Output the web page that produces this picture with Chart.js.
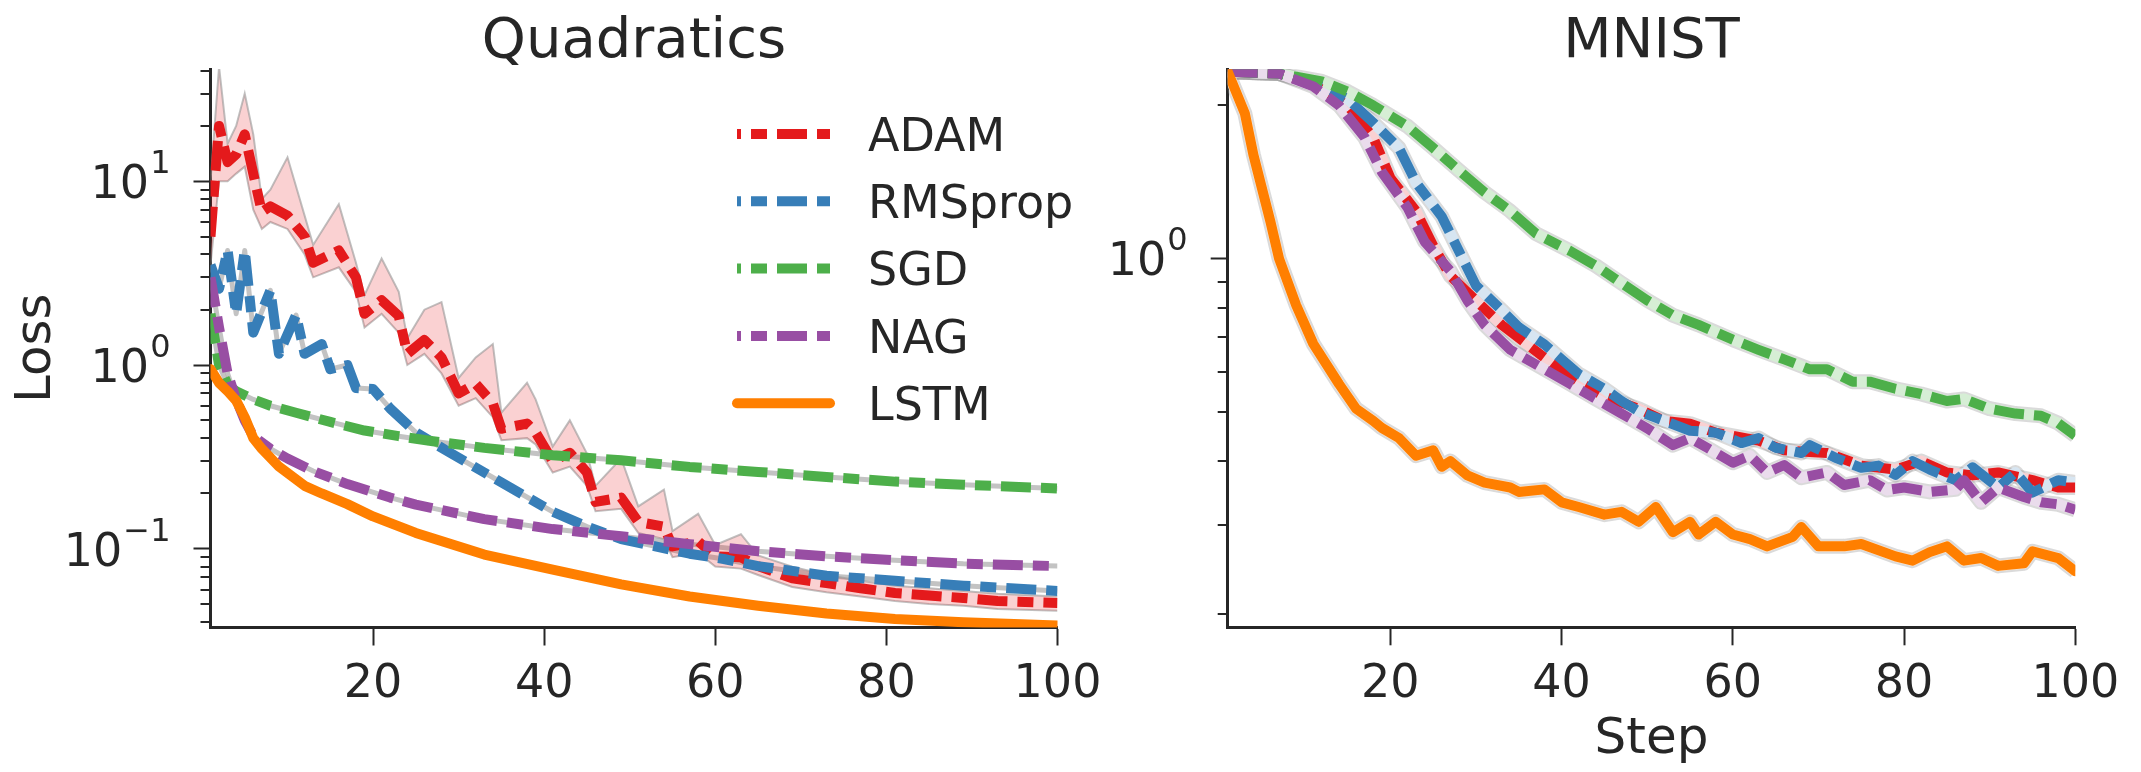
<!DOCTYPE html>
<html>
<head>
<meta charset="utf-8">
<script src="https://cdn.jsdelivr.net/npm/chart.js@4.4.1/dist/chart.umd.min.js"></script>
<style>
  html, body { margin: 0; padding: 0; background: #fff; }
  #wrap { position: relative; width: 2141px; height: 772px; overflow: hidden; }
  canvas { position: absolute; top: 0; }
</style>
</head>
<body>
<div id="wrap">
  <canvas id="quad" width="1141" height="772" style="left:0px"></canvas>
  <canvas id="mnist" width="1061" height="772" style="left:1080px"></canvas>
</div>
<script>
const TEXT = "#262626";
const FONT = "DejaVu Sans";

const NAMES = ["ADAM", "RMSprop", "SGD", "NAG", "LSTM"];
const COLORS = ["#e41a1c", "#377eb8", "#4daf4a", "#984ea3", "#ff7f00"];
const TINTS = ["#f9d1d2", "#d7e5f1", "#d6eed5", "#eadcec", "#ffe5cc"];

const STEP_TICKS = [20, 40, 60, 80, 100];
const QUAD_Y_TICKS = [0.1, 1, 10];
const QUAD_Y_LABELS = [["10", "−1"], ["10", "0"], ["10", "1"]];
const MNIST_Y_TICKS = [1];
const MNIST_Y_LABELS = [["10", "0"]];

// Quadratics
const QUAD_ADAM_X = [1, 2, 3, 4, 5, 6, 7, 8, 10, 12, 13, 16, 18, 19, 21, 23, 24, 26, 28, 30, 32, 34, 35, 38, 39, 41, 43, 45, 46, 49, 51, 54, 55, 58, 60, 63, 65, 69, 73, 77, 81, 85, 89, 93, 100];
const QUAD_ADAM_Y = [5.0, 20, 12.7, 14, 18, 11, 6.8, 7.3, 6.5, 5.0, 3.6, 4.2, 3.0, 1.9, 2.25, 1.85, 1.15, 1.37, 1.1, 0.70, 0.79, 0.62, 0.45, 0.48, 0.43, 0.30, 0.333, 0.26, 0.18, 0.19, 0.14, 0.132, 0.103, 0.11, 0.091, 0.09, 0.0805, 0.069, 0.065, 0.061, 0.0575, 0.0557, 0.054, 0.052, 0.0507];
const QUAD_ADAM_HI = [10, 42, 16, 20, 30, 18, 8, 9, 13.5, 6.5, 4.5, 7.5, 3.6, 2.4, 3.8, 2.5, 1.4, 2.0, 2.2, 0.85, 1.1, 1.3, 0.55, 0.8, 0.65, 0.36, 0.5, 0.33, 0.22, 0.31, 0.17, 0.21, 0.125, 0.155, 0.105, 0.12, 0.092, 0.08, 0.072, 0.067, 0.063, 0.061, 0.059, 0.057, 0.055];
const QUAD_ADAM_LO = [3.5, 10, 10, 11, 12, 7, 5.5, 6, 5.5, 4, 3.0, 3.4, 2.5, 1.6, 1.9, 1.5, 1.0, 1.15, 0.9, 0.6, 0.66, 0.52, 0.39, 0.4, 0.37, 0.26, 0.28, 0.22, 0.16, 0.165, 0.122, 0.113, 0.09, 0.095, 0.08, 0.078, 0.072, 0.062, 0.058, 0.055, 0.052, 0.05, 0.049, 0.047, 0.046];

const QUAD_RMS_X = [1, 2, 3, 4, 5, 6, 8, 9, 11, 12, 14, 15, 17, 18, 20, 22, 25, 29, 33, 37, 41, 45, 49, 53, 57, 61, 65, 69, 73, 81, 89, 100];
const QUAD_RMS_Y = [3.5, 2.6, 4.2, 1.9, 4.2, 1.5, 2.55, 1.15, 1.87, 1.15, 1.3, 0.95, 1.0, 0.75, 0.74, 0.58, 0.43, 0.333, 0.26, 0.203, 0.159, 0.132, 0.113, 0.103, 0.094, 0.088, 0.0805, 0.0758, 0.0713, 0.067, 0.063, 0.059];

const QUAD_SGD_X = [1, 2, 3, 4, 6, 8, 11, 15, 19, 23, 27, 33, 41, 49, 57, 65, 73, 81, 89, 100];
const QUAD_SGD_Y = [1.9, 1.0, 0.78, 0.72, 0.65, 0.60, 0.55, 0.49, 0.44, 0.41, 0.385, 0.354, 0.323, 0.303, 0.279, 0.262, 0.246, 0.232, 0.223, 0.213];

const QUAD_NAG_X = [1, 2, 3, 4, 5, 6, 8, 10, 13, 17, 22, 25, 33, 41, 49, 57, 65, 73, 81, 89, 100];
const QUAD_NAG_Y = [3.0, 1.6, 0.9, 0.65, 0.5, 0.41, 0.35, 0.31, 0.265, 0.225, 0.19, 0.174, 0.145, 0.128, 0.117, 0.106, 0.097, 0.091, 0.0867, 0.083, 0.0805];

const QUAD_LSTM_X = [1, 2, 3, 4, 5, 6, 7, 9, 12, 14, 17, 20, 25, 33, 41, 49, 57, 65, 73, 81, 89, 100];
const QUAD_LSTM_Y = [0.95, 0.80, 0.72, 0.64, 0.52, 0.40, 0.35, 0.28, 0.22, 0.20, 0.175, 0.15, 0.122, 0.093, 0.077, 0.064, 0.055, 0.049, 0.0445, 0.0415, 0.0398, 0.0382];

// MNIST
const MNIST_ADAM_X = [1, 7, 11, 15, 18, 20, 23, 25, 27, 30, 33, 36, 39, 42, 45, 49, 52, 55, 58, 63, 66, 71, 75, 79, 82, 85, 88, 91, 95, 98, 100];
const MNIST_ADAM_Y = [2.33, 2.31, 2.2, 2.0, 1.73, 1.44, 1.24, 1.06, 0.925, 0.827, 0.741, 0.678, 0.62, 0.573, 0.536, 0.507, 0.48, 0.474, 0.455, 0.439, 0.42, 0.415, 0.392, 0.385, 0.40, 0.38, 0.375, 0.38, 0.367, 0.355, 0.355];

const MNIST_RMS_X = [1, 7, 12, 15, 18, 21, 23, 26, 28, 30, 33, 35, 38, 40, 42, 45, 47, 49, 52, 55, 58, 61, 63, 65, 68, 69, 72, 75, 77, 79, 81, 83, 86, 88, 91, 93, 95, 98, 100];
const MNIST_RMS_Y = [2.33, 2.31, 2.18, 2.06, 1.85, 1.65, 1.41, 1.21, 1.035, 0.885, 0.792, 0.733, 0.678, 0.634, 0.593, 0.555, 0.525, 0.501, 0.48, 0.459, 0.455, 0.434, 0.444, 0.425, 0.415, 0.43, 0.406, 0.388, 0.392, 0.376, 0.40, 0.385, 0.367, 0.389, 0.355, 0.38, 0.347, 0.367, 0.363];

const MNIST_SGD_X = [1, 7, 12, 15, 18, 22, 25, 28, 31, 34, 37, 41, 44, 47, 50, 53, 56, 60, 63, 66, 69, 71, 74, 76, 79, 82, 85, 87, 90, 93, 96, 98, 100];
const MNIST_SGD_Y = [2.33, 2.31, 2.23, 2.13, 2.0, 1.82, 1.65, 1.49, 1.35, 1.24, 1.12, 1.035, 0.968, 0.895, 0.828, 0.774, 0.741, 0.693, 0.662, 0.634, 0.606, 0.606, 0.573, 0.573, 0.555, 0.542, 0.525, 0.53, 0.507, 0.496, 0.491, 0.475, 0.449];

const MNIST_NAG_X = [1, 7, 11, 14, 17, 19, 22, 24, 27, 29, 31, 34, 38, 41, 44, 47, 50, 53, 55, 57, 60, 62, 64, 66, 68, 71, 73, 76, 78, 80, 83, 86, 87, 89, 91, 94, 96, 98, 100];
const MNIST_NAG_Y = [2.33, 2.31, 2.18, 2.0, 1.73, 1.48, 1.26, 1.08, 0.946, 0.827, 0.741, 0.662, 0.606, 0.567, 0.53, 0.496, 0.464, 0.43, 0.444, 0.425, 0.397, 0.41, 0.38, 0.393, 0.371, 0.38, 0.359, 0.367, 0.351, 0.355, 0.348, 0.352, 0.367, 0.332, 0.355, 0.34, 0.332, 0.329, 0.321];

const MNIST_LSTM_X = [1, 3, 4, 6, 7, 9, 11, 14, 16, 18, 19, 21, 23, 25, 26, 27, 29, 31, 34, 35, 38, 40, 42, 45, 47, 49, 51, 53, 55, 56, 58, 60, 62, 64, 67, 68, 70, 73, 75, 79, 81, 83, 85, 87, 89, 91, 94, 95, 98, 100];
const MNIST_LSTM_Y = [2.33, 1.93, 1.6, 1.18, 1.0, 0.81, 0.68, 0.567, 0.507, 0.48, 0.465, 0.444, 0.41, 0.42, 0.39, 0.40, 0.375, 0.363, 0.355, 0.348, 0.352, 0.332, 0.325, 0.314, 0.318, 0.304, 0.325, 0.29, 0.304, 0.287, 0.304, 0.287, 0.281, 0.272, 0.284, 0.297, 0.272, 0.272, 0.275, 0.26, 0.255, 0.265, 0.272, 0.255, 0.258, 0.249, 0.252, 0.266, 0.258, 0.243];

const DASH = [30, 10, 16, 10];

function pts(xs, ys) {
    return xs.map((x, i) => ({ x: x, y: ys[i] }));
}

function lineSet(idx, xs, ys, order) {
    const solid = NAMES[idx] === "LSTM";
    return {
        label: NAMES[idx],
        legendIndex: idx,
        data: pts(xs, ys),
        borderColor: COLORS[idx],
        borderWidth: 10,
        borderDash: solid ? [] : DASH,
        borderCapStyle: solid ? "round" : "butt",
        borderJoinStyle: "round",
        pointRadius: 0,
        fill: false,
        tension: 0,
        order: order
    };
}

function haloSet(xs, ys, color, width, order) {
    return {
        label: "",
        data: pts(xs, ys),
        borderColor: color,
        borderWidth: width,
        borderJoinStyle: "round",
        pointRadius: 0,
        fill: false,
        tension: 0,
        order: order
    };
}

// all log ticks k*10^e inside [min, max], majors flagged
function logTicks(min, max, majors) {
    const out = [];
    for (let e = -3; e <= 3; e++) {
        for (let k = 1; k <= 9; k++) {
            const v = k * Math.pow(10, e);
            if (v >= min * 0.999 && v <= max * 1.001) {
                const m = majors.find(t => Math.abs(t - v) / t < 1e-9);
                out.push({ value: m !== undefined ? m : v, major: m !== undefined });
            }
        }
    }
    return out;
}

// minor ticks and the 10^n labels of the log axis
const logAxisExtras = {
    id: "logAxisExtras",
    afterDraw(chart, args, opts) {
        const s = chart.scales.y, a = chart.chartArea, ctx = chart.ctx;
        ctx.save();
        ctx.strokeStyle = TEXT;
        ctx.lineWidth = 2;
        s.ticks.forEach(t => {
            if (t.major) return;
            const y = Math.round(s.getPixelForValue(t.value));
            ctx.beginPath();
            ctx.moveTo(a.left - 1.5, y);
            ctx.lineTo(a.left - 10, y);
            ctx.stroke();
        });
        ctx.fillStyle = TEXT;
        ctx.textAlign = "right";
        ctx.textBaseline = "alphabetic";
        const right = a.left - 40;
        opts.ticks.forEach((v, i) => {
            const y = s.getPixelForValue(v) + 16.8;
            const lab = opts.labels[i];
            ctx.font = "32px '" + FONT + "'";
            const ew = ctx.measureText(lab[1]).width;
            ctx.fillText(lab[1], right, y - 25);
            ctx.font = "46px '" + FONT + "'";
            ctx.fillText(lab[0], right - ew - 1, y);
        });
        ctx.restore();
    }
};

const panelTitle = {
    id: "panelTitle",
    afterDraw(chart, args, opts) {
        const a = chart.chartArea, ctx = chart.ctx;
        ctx.save();
        ctx.fillStyle = TEXT;
        ctx.font = "56px '" + FONT + "'";
        ctx.textAlign = "center";
        ctx.textBaseline = "alphabetic";
        ctx.fillText(opts.text, (a.left + a.right) / 2, 57);
        ctx.restore();
    }
};

const lineLegend = {
    id: "lineLegend",
    afterDraw(chart, args, opts) {
        if (!opts.show) return;
        const ctx = chart.ctx;
        const sets = chart.data.datasets.filter(d => d.legendIndex !== undefined)
            .sort((a, b) => a.legendIndex - b.legendIndex);
        ctx.save();
        sets.forEach((d, i) => {
            const y = 134 + i * 67.3;
            ctx.beginPath();
            ctx.strokeStyle = d.borderColor;
            ctx.lineWidth = d.borderWidth;
            ctx.setLineDash(d.borderDash);
            ctx.lineDashOffset = d.borderDash.length ? 26 : 0;
            ctx.lineCap = d.borderCapStyle;
            ctx.moveTo(737, y);
            ctx.lineTo(830, y);
            ctx.stroke();
            ctx.setLineDash([]);
            ctx.fillStyle = TEXT;
            ctx.font = "46px '" + FONT + "'";
            ctx.textAlign = "left";
            ctx.textBaseline = "alphabetic";
            ctx.fillText(d.label, 868, y + 16.7);
        });
        ctx.restore();
    }
};

function scalesFor(cfg) {
    return {
        x: {
            type: "linear",
            min: 1,
            max: 100,
            afterBuildTicks: s => { s.ticks = STEP_TICKS.map(v => ({ value: v })); },
            afterFit: s => { s.height = cfg.xHeight; s.paddingLeft = 0; s.paddingRight = 0; },
            ticks: {
                autoSkip: false,
                maxRotation: 0,
                padding: 12,
                color: TEXT,
                font: { family: FONT, size: 46 }
            },
            grid: { drawOnChartArea: false, tickLength: 18, tickWidth: 2, tickColor: TEXT },
            border: { display: true, color: TEXT, width: 3 },
            title: {
                display: !!cfg.xTitle,
                text: cfg.xTitle || "",
                color: TEXT,
                font: { family: FONT, size: 50 },
                padding: { top: 0, bottom: 2 }
            }
        },
        y: {
            type: "logarithmic",
            min: cfg.yMin,
            max: cfg.yMax,
            afterBuildTicks: s => { s.ticks = logTicks(cfg.yMin, cfg.yMax, cfg.yTicks); },
            afterFit: s => { s.width = cfg.yWidth; s.paddingTop = 0; s.paddingBottom = 0; },
            ticks: {
                autoSkip: false,
                padding: 22,
                color: TEXT,
                font: { family: FONT, size: 46 },
                callback: () => ""
            },
            grid: {
                drawOnChartArea: false,
                tickLength: 17,
                tickWidth: 2,
                tickColor: c => (c.tick && c.tick.major) ? TEXT : "rgba(0,0,0,0)"
            },
            border: { display: true, color: TEXT, width: 3 },
            title: {
                display: !!cfg.yTitle,
                text: cfg.yTitle || "",
                color: TEXT,
                font: { family: FONT, size: 50 },
                padding: { top: 7, bottom: 0 }
            }
        }
    };
}

// Quadratics panel
const quadSets = [
    lineSet(4, QUAD_LSTM_X, QUAD_LSTM_Y, 1),
    lineSet(3, QUAD_NAG_X, QUAD_NAG_Y, 2),
    lineSet(2, QUAD_SGD_X, QUAD_SGD_Y, 3),
    lineSet(1, QUAD_RMS_X, QUAD_RMS_Y, 4),
    lineSet(0, QUAD_ADAM_X, QUAD_ADAM_Y, 5),
    {
        label: "", data: pts(QUAD_ADAM_X, QUAD_ADAM_HI), borderColor: "rgba(150,150,150,0.6)",
        borderWidth: 2, backgroundColor: "rgba(228,26,28,0.2)", fill: "+1",
        pointRadius: 0, tension: 0, order: 6
    },
    {
        label: "", data: pts(QUAD_ADAM_X, QUAD_ADAM_LO), borderColor: "rgba(150,150,150,0.6)",
        borderWidth: 2, fill: false, pointRadius: 0, tension: 0, order: 7
    },
    haloSet(QUAD_RMS_X, QUAD_RMS_Y, "rgba(170,170,170,0.7)", 5, 8),
    haloSet(QUAD_SGD_X, QUAD_SGD_Y, "rgba(170,170,170,0.7)", 5, 8),
    haloSet(QUAD_NAG_X, QUAD_NAG_Y, "rgba(170,170,170,0.7)", 5, 8)
];

new Chart(document.getElementById("quad"), {
    type: "line",
    data: { datasets: quadSets },
    options: {
        responsive: false,
        animation: false,
        layout: { padding: { left: 0, top: 69, right: 83.5, bottom: 0 } },
        plugins: {
            legend: { display: false },
            tooltip: { enabled: false },
            panelTitle: { text: "Quadratics" },
            lineLegend: { show: true },
            logAxisExtras: { ticks: QUAD_Y_TICKS, labels: QUAD_Y_LABELS }
        },
        scales: scalesFor({
            xHeight: 144.5, yWidth: 210.5,
            yMin: 0.0373, yMax: 40.8,
            yTicks: QUAD_Y_TICKS,
            yTitle: "Loss"
        })
    },
    plugins: [logAxisExtras, panelTitle, lineLegend]
});

// MNIST panel
const mnistSeries = [
    [4, MNIST_LSTM_X, MNIST_LSTM_Y],
    [3, MNIST_NAG_X, MNIST_NAG_Y],
    [2, MNIST_SGD_X, MNIST_SGD_Y],
    [1, MNIST_RMS_X, MNIST_RMS_Y],
    [0, MNIST_ADAM_X, MNIST_ADAM_Y]
];
const mnistSets = [];
mnistSeries.forEach((s, i) => {
    mnistSets.push(lineSet(s[0], s[1], s[2], i + 1));
});
mnistSeries.forEach(s => {
    mnistSets.push(haloSet(s[1], s[2], "rgba(150,150,150,0.35)", 15, 20));
    mnistSets.push(haloSet(s[1], s[2], TINTS[s[0]], 11, 19));
});

new Chart(document.getElementById("mnist"), {
    type: "line",
    data: { datasets: mnistSets },
    options: {
        responsive: false,
        animation: false,
        layout: { padding: { left: 0, top: 69.3, right: 65.7, bottom: 0 } },
        plugins: {
            legend: { display: false },
            tooltip: { enabled: false },
            panelTitle: { text: "MNIST" },
            lineLegend: { show: false },
            logAxisExtras: { ticks: MNIST_Y_TICKS, labels: MNIST_Y_LABELS }
        },
        scales: scalesFor({
            xHeight: 144.7, yWidth: 147.7,
            yMin: 0.1886, yMax: 2.355,
            yTicks: MNIST_Y_TICKS,
            xTitle: "Step"
        })
    },
    plugins: [logAxisExtras, panelTitle, lineLegend]
});
</script>
</body>
</html>
